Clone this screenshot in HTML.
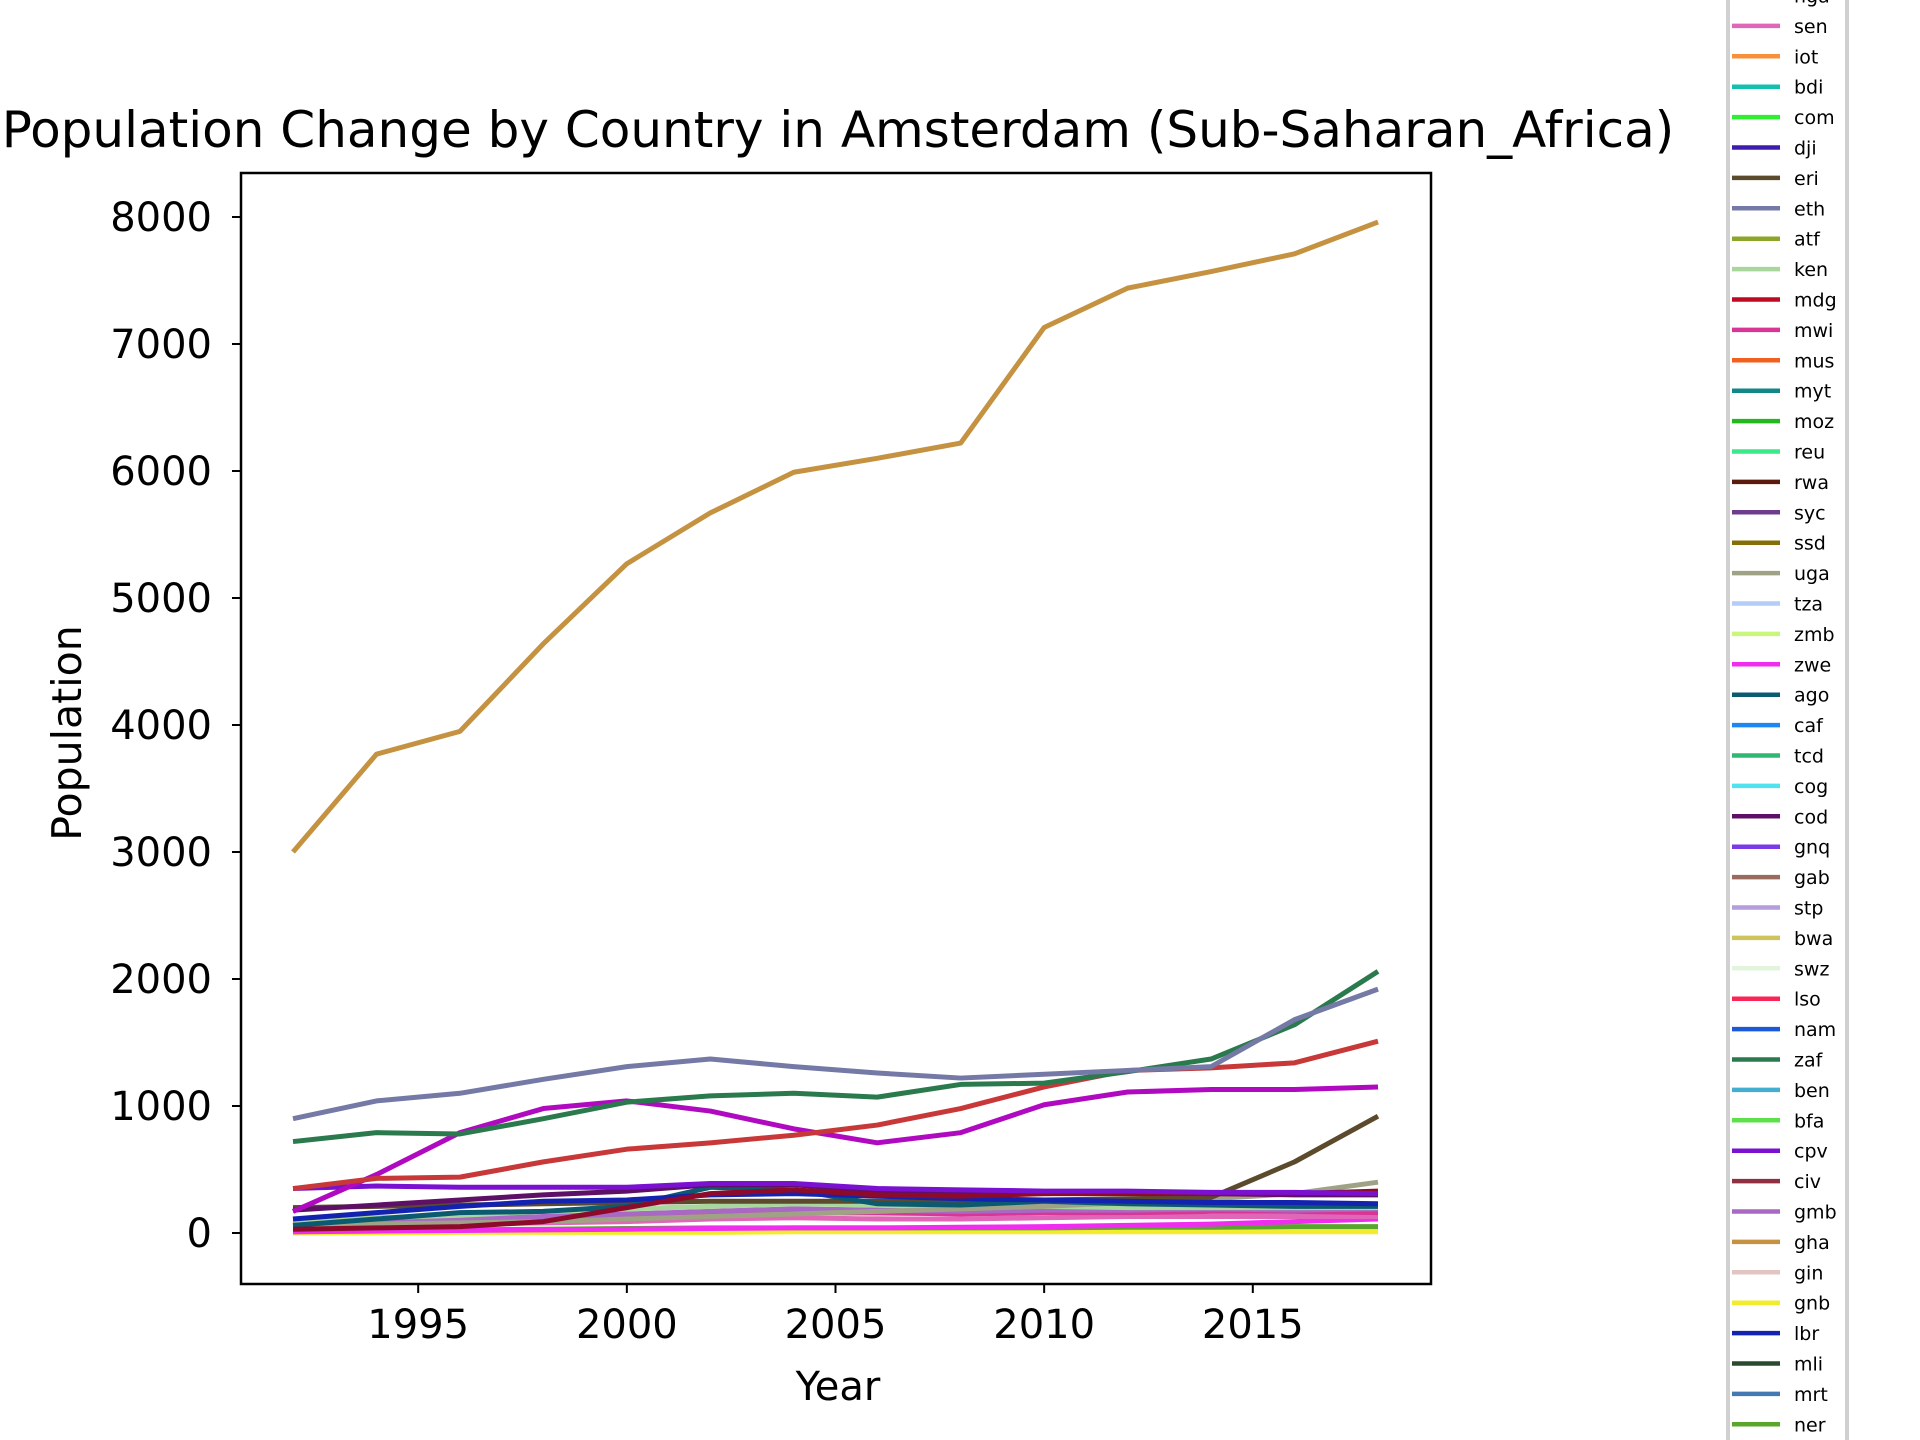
<!DOCTYPE html>
<html><head><meta charset="utf-8">
<style>
body{margin:0;background:#fff;}
svg{display:block;font-family:"DejaVu Sans","Liberation Sans",sans-serif;}
</style></head>
<body>
<svg id="chart" width="1920" height="1440" viewBox="0 0 1920 1440">
<rect width="1920" height="1440" fill="#fff"/>
<text x="838" y="147" font-size="50" text-anchor="middle">Population Change by Country in Amsterdam (Sub-Saharan_Africa)</text>
<g id="plot"></g>
<g id="axes"></g>
<text x="838" y="1400" font-size="40" text-anchor="middle">Year</text>
<text x="81" y="733" font-size="41" text-anchor="middle" transform="rotate(-90 81 733)">Population</text>
<g id="legend"></g>
</svg>
<script>
const years = [1992,1994,1996,1998,2000,2002,2004,2006,2008,2010,2012,2014,2016,2018];
const xTicks = [1995,2000,2005,2010,2015];
const yTicks = [0,1000,2000,3000,4000,5000,6000,7000,8000];
const legendNames = ["nga","sen","iot","bdi","com","dji","eri","eth","atf","ken","mdg","mwi","mus","myt","moz","reu","rwa","syc","ssd","uga","tza","zmb","zwe","ago","caf","tcd","cog","cod","gnq","gab","stp","bwa","swz","lso","nam","zaf","ben","bfa","cpv","civ","gmb","gha","gin","gnb","lbr","mli","mrt","ner"];
const legendColors = ["#ffffff","#e066b8","#f7903a","#12c0b0","#2ef030","#3e1cb0","#5b4a2c","#7479a6","#8ca62a","#a8d69c","#c00a24","#d93596","#f26020","#12878a","#22b81e","#3ce88a","#5a1a0c","#6e3c8c","#857008","#a0a285","#b4ccf8","#caf77a","#f02cf0","#0b5a70","#1e86f0","#2eb872","#50e2ee","#5e1066","#7a3ae6","#9a6a5e","#b49ede","#cec45c","#e2f4dc","#fa2456","#1b5ad6","#2a7a4e","#44aed0","#5ee04c","#7a10d0","#8e3040","#a868c4","#c49240","#e2c4c0","#f2ec2c","#1422b0","#2a4a30","#4478b2","#5aa62c"];
// series values (population) per year
const ghaVals = [3000,3770,3950,4640,5270,5670,5990,6100,6220,7130,7440,7570,7710,7960];
const ethVals = [900,1040,1100,1210,1310,1370,1310,1260,1220,1250,1280,1310,1680,1920];
const zafVals = [720,790,780,900,1030,1080,1100,1070,1170,1180,1270,1370,1640,2060];
const redVals = [350,430,440,560,660,710,770,850,980,1150,1280,1300,1340,1510];
const magVals = [170,460,790,980,1040,960,820,710,790,1010,1110,1130,1130,1150];
const eriVals = [200,210,220,230,240,250,250,250,250,260,270,280,560,920];
const cpvVals = [350,370,360,360,360,390,390,350,340,330,330,320,320,310];
const codVals = [180,220,260,300,330,380,380,330,320,310,320,310,300,300];
const civVals = [30,40,50,90,200,310,340,300,290,310,310,310,310,330];
const lbrVals = [110,160,210,250,260,300,310,290,270,260,250,240,240,230];
const agoVals = [60,110,160,170,210,360,340,230,220,250,230,220,210,210];
const ugaVals = [60,70,80,90,110,130,150,170,190,210,240,270,310,400];
const kenVals = [100,120,140,170,190,210,230,220,200,210,200,200,200,200];
const gmbVals = [90,100,110,130,150,170,190,180,170,180,180,190,180,190];
const ginVals = [40,60,80,100,130,150,160,150,160,170,180,180,170,170];
const mwiVals = [80,90,100,110,130,150,160,160,150,160,160,170,170,160];
const zweVals = [10,15,20,25,30,35,40,40,45,50,60,70,90,110];
const nerVals = [10,20,25,30,35,40,40,40,40,40,45,45,50,50];
const gnbVals = [0,0,5,5,5,5,10,10,10,10,10,10,10,10];
const senVals = [50,60,70,80,90,110,120,110,110,120,130,130,130,130];
const series = [
 ["gnb",gnbVals,"#f2ec2c"],["ner",nerVals,"#5aa62c"],["zwe",zweVals,"#f02cf0"],["sen",senVals,"#e066b8"],
 ["gin",ginVals,"#e2c4c0"],["mwi",mwiVals,"#d93596"],["gmb",gmbVals,"#a868c4"],["ken",kenVals,"#a8d69c"],
 ["uga",ugaVals,"#a0a285"],["eri",eriVals,"#5b4a2c"],["ago",agoVals,"#0b5a70"],["lbr",lbrVals,"#1422b0"],
 ["cod",codVals,"#5e1066"],["civ",civVals,"#8e0a2a"],["cpv",cpvVals,"#7a10d0"],["mag",magVals,"#b00ac0"],
 ["red",redVals,"#c83838"],["zaf",zafVals,"#2a7a4e"],["eth",ethVals,"#7479a6"],["gha",ghaVals,"#c49240"]
];
const NS="http://www.w3.org/2000/svg";
const L=241,R=1431,T=173,B=1284;
function xs(y){return 293+(y-1992)*(1378-293)/26;}
function ys(v){return 1233-v*(1233-217)/8000;}
const plot=document.getElementById('plot');
series.forEach(s=>{
 const p=document.createElementNS(NS,'polyline');
 p.setAttribute('points',years.map((y,i)=>xs(y)+','+ys(s[1][i])).join(' '));
 p.setAttribute('fill','none');p.setAttribute('stroke',s[2]);p.setAttribute('stroke-width','5');
 p.setAttribute('stroke-linejoin','round');
 
 
 plot.appendChild(p);
});
const ax=document.getElementById('axes');
const fr=document.createElementNS(NS,'rect');
fr.setAttribute('x',L);fr.setAttribute('y',T);fr.setAttribute('width',R-L);fr.setAttribute('height',B-T);
fr.setAttribute('fill','none');fr.setAttribute('stroke','#000');fr.setAttribute('stroke-width','2.5');


ax.appendChild(fr);
xTicks.forEach(t=>{
 const l=document.createElementNS(NS,'line');
 l.setAttribute('x1',xs(t));l.setAttribute('x2',xs(t));l.setAttribute('y1',B);l.setAttribute('y2',B+9);
 l.setAttribute('stroke','#000');l.setAttribute('stroke-width','2');
 
 
 ax.appendChild(l);
 const tx=document.createElementNS(NS,'text');
 tx.setAttribute('x',xs(t));tx.setAttribute('y',B+54);tx.setAttribute('font-size','40');tx.setAttribute('text-anchor','middle');
 tx.textContent=t;
 
 
 ax.appendChild(tx);
});
yTicks.forEach(t=>{
 const l=document.createElementNS(NS,'line');
 l.setAttribute('x1',L-9);l.setAttribute('x2',L);l.setAttribute('y1',ys(t));l.setAttribute('y2',ys(t));
 l.setAttribute('stroke','#000');l.setAttribute('stroke-width','2');
 
 
 ax.appendChild(l);
 const tx=document.createElementNS(NS,'text');
 tx.setAttribute('x',L-29);tx.setAttribute('y',ys(t)+14);tx.setAttribute('font-size','40');tx.setAttribute('text-anchor','end');
 tx.textContent=t;
 
 
 ax.appendChild(tx);
});
const lg=document.getElementById('legend');
const box=document.createElementNS(NS,'rect');
box.setAttribute('x',1728);box.setAttribute('y',-20);box.setAttribute('width',119);box.setAttribute('height',1480);
box.setAttribute('fill','#fff');box.setAttribute('stroke','#d0d0d0');box.setAttribute('stroke-width','4');


lg.appendChild(box);
legendNames.forEach((n,i)=>{
 const y=-4.5+i*30.4;
 const l=document.createElementNS(NS,'line');
 l.setAttribute('x1',1732);l.setAttribute('x2',1780);l.setAttribute('y1',y);l.setAttribute('y2',y);
 l.setAttribute('stroke',legendColors[i]);l.setAttribute('stroke-width','4.5');
 
 
 lg.appendChild(l);
 const tx=document.createElementNS(NS,'text');
 tx.setAttribute('x',1794);tx.setAttribute('y',y+7);tx.setAttribute('font-size','19');
 tx.textContent=n;
 
 
 lg.appendChild(tx);
});
</script>
</body></html>
